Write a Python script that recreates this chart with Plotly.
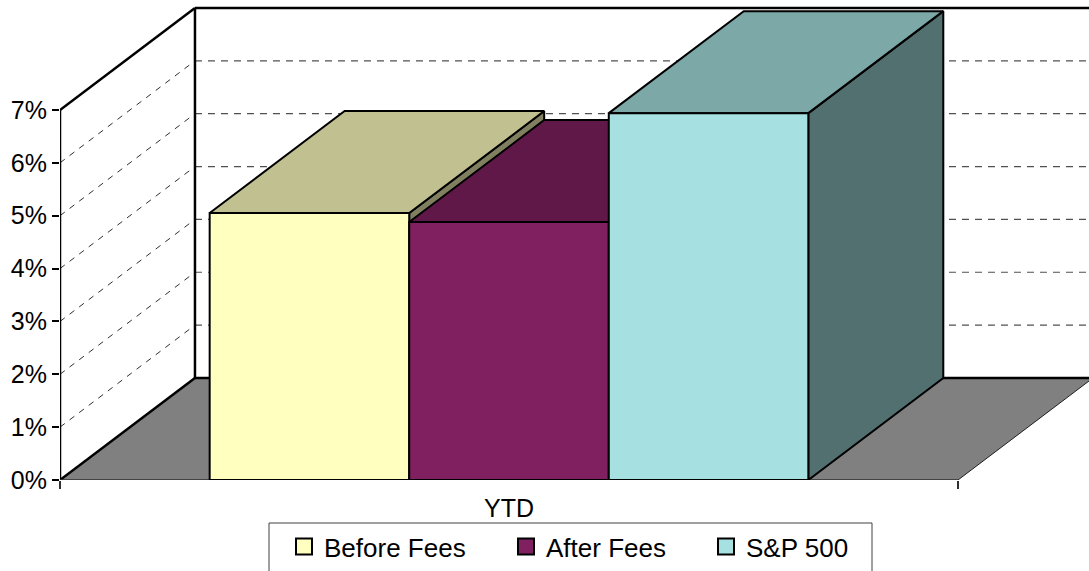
import plotly.graph_objects as go

# ---- data ----
categories = ["YTD"]
series_names = ["Before Fees", "After Fees", "S&P 500"]
series_values = [5.05, 4.88, 6.94]          # percent
y_tick_values = [0, 1, 2, 3, 4, 5, 6, 7]
y_tick_labels = ["0%", "1%", "2%", "3%", "4%", "5%", "6%", "7%"]

# ---- style ----
front_colors = ["#FFFFC0", "#802060", "#A6E0E0"]
top_colors = ["#C0C090", "#601848", "#7CA8A8"]
side_colors = ["#808060", "#401030", "#537070"]
FONT = "Liberation Sans, Arial, sans-serif"

# projection constants (oblique 3D look)
DX = 0.1503            # depth offset in x (category units)
DY = 1.93              # depth offset in y (percent units)
BW = 1 / 4.5           # bar width (gap width 150%)
GAP = 0.75 * BW
YMAX = 7

# pixel layout helpers (plot area: left 60, width 1029, top 0, height 480)
PL, PW, PH = 60, 1029, 480


def px_x(p):
    return (p - PL) / PW


def px_y(p):
    return (PH - p) / PH


fig = go.Figure()


def poly(xs, ys, fill, lw=2, lc="black"):
    fig.add_trace(go.Scatter(
        x=list(xs) + [xs[0]], y=list(ys) + [ys[0]], mode="lines", fill="toself",
        fillcolor=fill, line=dict(color=lc, width=lw), hoverinfo="skip",
        showlegend=False))


def seg(x0, y0, x1, y1, lw=2, color="black", dash="solid"):
    fig.add_trace(go.Scatter(
        x=[x0, x1], y=[y0, y1], mode="lines",
        line=dict(color=color, width=lw, dash=dash), hoverinfo="skip",
        showlegend=False))


# floor
poly([0, DX, 1 + DX, 1], [0, DY, DY, 0], "#808080", lw=0, lc="rgba(0,0,0,0)")

# gridlines on back wall and side wall
for k in y_tick_values[1:-1]:
    seg(DX, k + DY, 1 + DX, k + DY, lw=1.2, color="#505050", dash="7px,6px")
    seg(0, k, DX, k + DY, lw=1, color="#303030", dash="6px,6px")

# wall / floor edges
seg(0, 0, 0, YMAX, lw=2.5)
seg(0, YMAX, DX, YMAX + DY, lw=2.5)
seg(DX, DY, DX, YMAX + DY, lw=2.5)
seg(DX, YMAX + DY, 1 + DX, YMAX + DY, lw=2.5)
seg(0, 0, DX, DY, lw=2.5)
seg(DX, DY, 1 + DX, DY, lw=2.5)
seg(1, 0, 1 + DX, DY, lw=1, color="#202020")
seg(0, 0, 1, 0, lw=1.5, color="#303030")

# bars (drawn left to right)
for i, v in enumerate(series_values):
    x0 = GAP + i * BW
    x1 = x0 + BW
    poly([x1, x1 + DX, x1 + DX, x1], [0, DY, v + DY, v], side_colors[i])
    poly([x0, x0 + DX, x1 + DX, x1], [v, v + DY, v + DY, v], top_colors[i])
    poly([x0, x1, x1, x0], [0, 0, v, v], front_colors[i])

# legend entries: one legend per entry, placed like the original
legend_px = [284, 506, 706]
legend_names = ["legend", "legend2", "legend3"]
for name, c, lg in zip(series_names, front_colors, legend_names):
    fig.add_trace(go.Scatter(
        x=[None], y=[None], mode="markers", name=name, legend=lg,
        marker=dict(symbol="square", size=16, color=c,
                    line=dict(color="black", width=2))))

legend_common = dict(orientation="h", xanchor="left", y=px_y(523),
                     yanchor="top", borderwidth=0, bgcolor="rgba(0,0,0,0)",
                     font=dict(size=26, family=FONT, color="black"))

fig.update_layout(
    width=1089, height=571,
    margin=dict(l=PL, r=0, t=0, b=91),
    paper_bgcolor="white", plot_bgcolor="white",
    font=dict(family=FONT, size=25, color="black"),
    xaxis=dict(range=[0, PW / 898], showgrid=False, zeroline=False,
               showline=False, tickmode="array", tickvals=[0.5],
               ticktext=categories, ticks="", tickfont=dict(size=25),
               ticklabelstandoff=11,
               minor=dict(tickmode="array", tickvals=[0, 1], ticks="outside",
                          ticklen=8, tickwidth=1.5, tickcolor="#303030"),
               fixedrange=True),
    yaxis=dict(range=[0, PH / (370 / 7)], showgrid=False, zeroline=False,
               showline=False, tickmode="array", tickvals=y_tick_values,
               ticktext=y_tick_labels, ticks="outside", ticklen=7,
               tickwidth=1.5, tickcolor="black", tickfont=dict(size=25),
               fixedrange=True),
    legend=dict(x=px_x(legend_px[0]), **legend_common),
    legend2=dict(x=px_x(legend_px[1]), **legend_common),
    legend3=dict(x=px_x(legend_px[2]), **legend_common),
    showlegend=True,
    shapes=[dict(type="rect", xref="paper", yref="paper",
                 x0=px_x(269), x1=px_x(872), y0=px_y(523), y1=px_y(580),
                 line=dict(color="#404040", width=1), fillcolor="rgba(0,0,0,0)",
                 layer="below")],
)

fig.write_html("out.html", config={"displayModeBar": False},
               post_script="document.body.style.margin='0px';")
